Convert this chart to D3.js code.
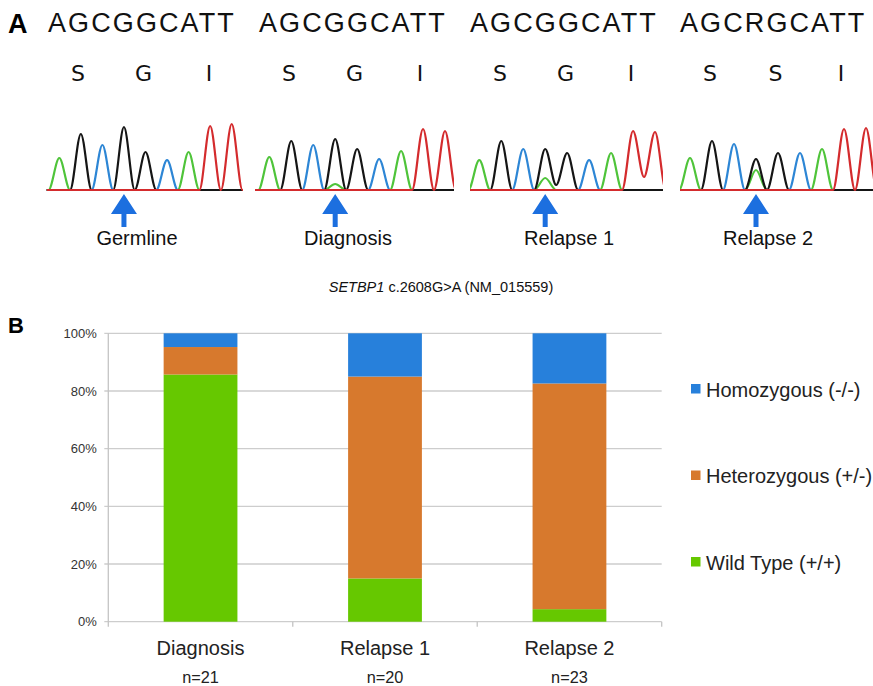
<!DOCTYPE html>
<html lang="en">
<head>
<meta charset="UTF-8">
<title>SETBP1 c.2608G>A</title>
<style>
  body { margin: 0; background: #fff; }
  svg { display: block; font-family: "Liberation Sans", Arial, sans-serif; }
</style>
</head>
<body>
<svg id="fig" width="873" height="686"></svg>
<script src="https://cdnjs.cloudflare.com/ajax/libs/d3/7.8.5/d3.min.js"></script>
<script>
'use strict';

// ---- panel A data ----
const samples = ["Germline", "Diagnosis", "Relapse 1", "Relapse 2"];
const readSeqs = ["AGCGGCATT", "AGCGGCATT", "AGCGGCATT", "AGCRGCATT"];
const aminoAcids = [["S", "G", "I"], ["S", "G", "I"], ["S", "G", "I"], ["S", "S", "I"]];
const traceBases = "AGCGGCATT";
const peakHeights = [
  [32, 56, 45, 63, 38, 30, 38, 64, 66],
  [33, 49, 45, 51, 41, 31, 39, 61, 59],
  [30, 49, 41, 41, 37, 30, 37, 59, 58],
  [32, 49, 46, 31, 37, 37, 41, 61, 62]
];
const mutantA = [0, 6, 12, 20]; // A signal under the G at c.2608
const valleys = [[], [], [{after: 3, base: "G", h: 5}, {after: 7, base: "T", h: 13}], []];
const mutPos = 3;

// ---- panel B data ----
const stages = ["Diagnosis", "Relapse 1", "Relapse 2"];
const wildType = [18, 3, 1];
const heterozygous = [2, 14, 18];
const homozygous = [1, 3, 4];
const genotypes = ["Homozygous (-/-)", "Heterozygous (+/-)", "Wild Type (+/+)"];
const yTicks = [0, 0.2, 0.4, 0.6, 0.8, 1];

const svg = d3.select("#fig");

// ---- panel A layout ----
const seqX = [48, 259, 470, 680];
const traceExtent = [[46.7, 243], [255, 454], [470, 663], [680, 873]];
const peakRange = [[59.3, 231.7], [269.3, 445], [479.3, 655], [690, 866]];
const labelX = [137, 348, 569, 768];
const baseColor = {A: "#4fc43a", C: "#2d86d5", G: "#151515", T: "#d42b2d"};

svg.append("text").attr("x", 8).attr("y", 33)
  .attr("font-size", 27).attr("font-weight", "bold").text("A");

const yT = d3.scaleLinear().domain([0, 100]).range([190, 90]);

samples.forEach((s, i) => {
  svg.append("text")
    .attr("x", seqX[i]).attr("y", 32)
    .attr("font-size", 27).attr("letter-spacing", "2.1px").attr("fill", "#111")
    .text(readSeqs[i]);

  aminoAcids[i].forEach((aa, c) => {
    svg.append("text")
      .attr("x", seqX[i] + 30 + c * 65.5).attr("y", 80.5)
      .attr("text-anchor", "middle")
      .attr("font-family", "'DejaVu Sans', sans-serif")
      .attr("font-size", 22).attr("fill", "#111")
      .text(aa);
  });

  const x = d3.scaleLinear().domain([0, 8]).range(peakRange[i]);
  svg.append("clipPath").attr("id", "clip" + i)
    .append("rect")
    .attr("x", traceExtent[i][0]).attr("y", 100)
    .attr("width", traceExtent[i][1] - traceExtent[i][0]).attr("height", 100);

  const g = svg.append("g").attr("clip-path", `url(#clip${i})`);
  const line = d3.line().x(d => d[0]).y(d => yT(d[1])).curve(d3.curveMonotoneX);

  ["A", "C", "G", "T"].forEach(b => {
    const pts = [];
    for (let k = -2; k <= 18; k++) {
      const p = k / 2;
      let v = 0;
      if (k % 2 === 0 && p >= 0 && p <= 8) {
        if (traceBases[p] === b) v = peakHeights[i][p];
        else if (p === mutPos && b === "A") v = mutantA[i];
      } else {
        const vv = valleys[i].find(d => d.after + 0.5 === p && d.base === b);
        if (vv) v = vv.h;
      }
      pts.push([x(p), v]);
    }
    g.append("path")
      .attr("d", line(pts))
      .attr("fill", "none")
      .attr("stroke", baseColor[b])
      .attr("stroke-width", 2.2)
      .attr("stroke-linejoin", "round");
  });

  const cx = x(mutPos);
  const arrow = [[cx, 194], [cx + 13, 214], [cx + 2.5, 214], [cx + 2.5, 227],
    [cx - 2.5, 227], [cx - 2.5, 214], [cx - 13, 214]];
  svg.append("path")
    .attr("d", d3.line()(arrow) + "Z")
    .attr("fill", "#1c6fdf");

  svg.append("text")
    .attr("x", labelX[i]).attr("y", 245)
    .attr("text-anchor", "middle")
    .attr("font-size", 20).attr("fill", "#111")
    .text(s);
});

const title = svg.append("text")
  .attr("x", 441).attr("y", 292)
  .attr("text-anchor", "middle")
  .attr("font-size", 14.5).attr("fill", "#111");
title.append("tspan").attr("font-style", "italic").text("SETBP1");
title.append("tspan").text(" c.2608G>A (NM_015559)");

// ---- panel B ----
svg.append("text").attr("x", 8).attr("y", 333)
  .attr("font-size", 22).attr("font-weight", "bold").text("B");

const plotLeft = 108.3, plotRight = 661.7, plotTop = 333.3, plotBottom = 621.7;

const rows = stages.map((st, i) => ({
  stage: st, wild: wildType[i], het: heterozygous[i], hom: homozygous[i]
}));
const keys = ["wild", "het", "hom"];
const colors = {wild: "#66c800", het: "#d7792d", hom: "#2780db"};
const stacked = d3.stack().keys(keys).offset(d3.stackOffsetExpand)(rows);

const xB = d3.scaleBand().domain(stages).range([plotLeft, plotRight])
  .paddingInner(0.6).paddingOuter(0.3);
const yB = d3.scaleLinear().domain([0, 1]).range([plotBottom, plotTop]);

svg.append("g").selectAll("line")
  .data(yTicks)
  .join("line")
  .attr("x1", plotLeft - 4).attr("x2", plotRight)
  .attr("y1", d => yB(d)).attr("y2", d => yB(d))
  .attr("stroke", "#cdcdcd").attr("stroke-width", 1.3);

svg.append("line")
  .attr("x1", plotLeft).attr("x2", plotLeft).attr("y1", plotTop).attr("y2", plotBottom + 5)
  .attr("stroke", "#c4c4c4").attr("stroke-width", 1.3);

const step = xB.step();
svg.append("g").selectAll("line")
  .data(d3.range(1, stages.length + 1))
  .join("line")
  .attr("x1", d => plotLeft + d * step).attr("x2", d => plotLeft + d * step)
  .attr("y1", plotBottom).attr("y2", plotBottom + 5)
  .attr("stroke", "#c4c4c4").attr("stroke-width", 1.3);

const yAxis = svg.append("g")
  .attr("transform", `translate(${plotLeft},0)`)
  .call(d3.axisLeft(yB).tickValues(yTicks).tickFormat(d3.format(".0%"))
    .tickSize(0).tickPadding(11.5));
yAxis.select(".domain").remove();
yAxis.selectAll("text")
  .attr("font-family", "'Liberation Sans', Arial, sans-serif")
  .attr("font-size", 13).attr("fill", "#333");

svg.append("g").selectAll("g")
  .data(stacked)
  .join("g")
  .attr("fill", d => colors[d.key])
  .selectAll("rect")
  .data(d => d)
  .join("rect")
  .attr("x", d => xB(d.data.stage))
  .attr("width", xB.bandwidth())
  .attr("y", d => yB(d[1]))
  .attr("height", d => yB(d[0]) - yB(d[1]));

svg.append("g").selectAll("text")
  .data(stages)
  .join("text")
  .attr("x", d => xB(d) + xB.bandwidth() / 2)
  .attr("y", 654.5)
  .attr("text-anchor", "middle")
  .attr("font-size", 20).attr("fill", "#222")
  .text(d => d);

svg.append("g").selectAll("text")
  .data(rows)
  .join("text")
  .attr("x", d => xB(d.stage) + xB.bandwidth() / 2)
  .attr("y", 682.5)
  .attr("text-anchor", "middle")
  .attr("font-size", 16.3).attr("fill", "#222")
  .text(d => "n=" + (d.wild + d.het + d.hom));

const legendKeys = ["hom", "het", "wild"];
const legend = svg.append("g").selectAll("g")
  .data(genotypes)
  .join("g")
  .attr("transform", (d, i) => `translate(691,${389 + i * 86.5})`);
legend.append("rect")
  .attr("x", 0).attr("y", -5).attr("width", 9.5).attr("height", 9.5)
  .attr("fill", (d, i) => colors[legendKeys[i]]);
legend.append("text")
  .attr("x", 15).attr("y", 7.5)
  .attr("font-size", 20).attr("fill", "#222")
  .text(d => d);
</script>
</body>
</html>
